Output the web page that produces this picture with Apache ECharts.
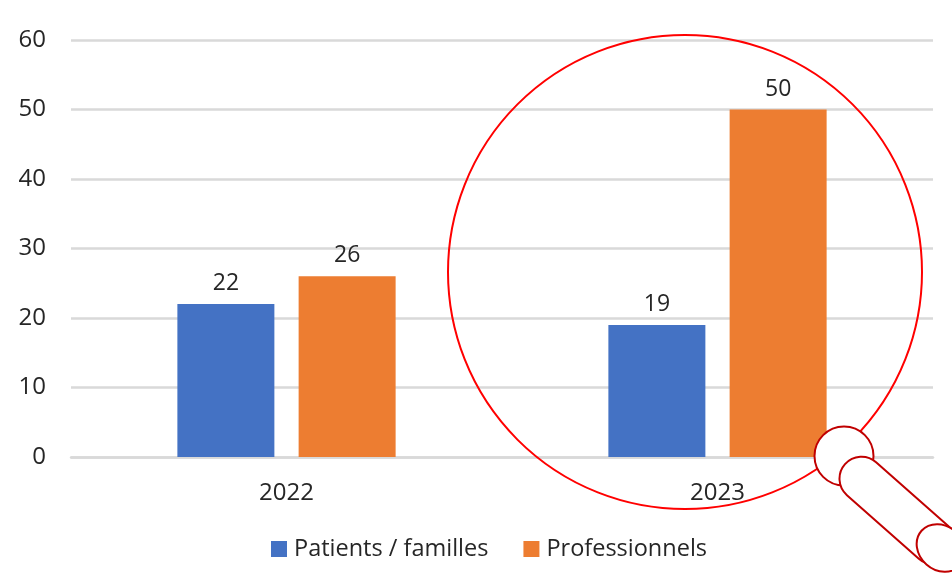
<!DOCTYPE html>
<html><head><meta charset="utf-8">
<style>html,body{margin:0;padding:0;background:#fff}#c{width:952px;height:585px}</style>
<script src="https://cdn.jsdelivr.net/npm/echarts@6/dist/echarts.min.js"></script></head>
<body><div id="c"></div>
<script>
const categories = ['2022', '2023'];
const patients = [22, 19];
const professionnels = [26, 50];
const yTicks = {min: 0, max: 60, interval: 10};
const FONT = '"Open Sans"';
const chart = echarts.init(document.getElementById('c'), null, {renderer: 'canvas'});
const labelStyle = {show: true, position: 'top', distance: 9, color: '#262626', fontFamily: FONT, fontSize: 23};
chart.setOption({
  animation: false,
  backgroundColor: '#fff',
  grid: {left: 71, right: 19, top: 40, bottom: 128},
  legend: {
    left: 271, top: 537, padding: 0, itemWidth: 16, itemHeight: 16, itemGap: 35, icon: 'rect',
    textStyle: {color: '#262626', fontFamily: FONT, fontSize: 23.5, padding: [0, 0, 0, 2]},
    data: ['Patients / familles', 'Professionnels']
  },
  xAxis: {
    type: 'category', data: categories,
    axisLine: {show: true, lineStyle: {color: '#d9d9d9', width: 2.5}},
    axisTick: {show: false},
    axisLabel: {color: '#262626', fontFamily: FONT, fontSize: 24, margin: 24}
  },
  yAxis: {
    type: 'value', min: yTicks.min, max: yTicks.max, interval: yTicks.interval,
    axisLine: {show: false}, axisTick: {show: false},
    axisLabel: {color: '#262626', fontFamily: FONT, fontSize: 24, margin: 25, padding: [2, 0, 0, 0]},
    splitLine: {lineStyle: {color: '#d9d9d9', width: 2.5}}
  },
  series: [
    {name: 'Patients / familles', type: 'bar', data: patients, barWidth: 97, barGap: '25%', itemStyle: {color: '#4472c4'}, label: labelStyle},
    {name: 'Professionnels', type: 'bar', data: professionnels, barWidth: 97, itemStyle: {color: '#ed7d31'}, label: labelStyle}
  ],
  graphic: [
    {type: 'circle', z: 100, shape: {cx: 685, cy: 272, r: 237}, style: {fill: 'none', stroke: '#ff0000', lineWidth: 2}},
    {type: 'circle', z: 101, shape: {cx: 844, cy: 456, r: 29.5}, style: {fill: '#fff', stroke: '#c00000', lineWidth: 2}},
    {type: 'rect', z: 102, x: 863, y: 480, rotation: -41.5 * Math.PI / 180,
      shape: {x: -24, y: -22, width: 140, height: 44, r: 22}, style: {fill: '#fff', stroke: '#c00000', lineWidth: 2}},
    {type: 'ellipse', z: 103, x: 941, y: 548, rotation: -41.5 * Math.PI / 180,
      shape: {cx: 0, cy: 0, rx: 26, ry: 22}, style: {fill: '#fff', stroke: '#c00000', lineWidth: 2}}
  ]
});
</script></body></html>
